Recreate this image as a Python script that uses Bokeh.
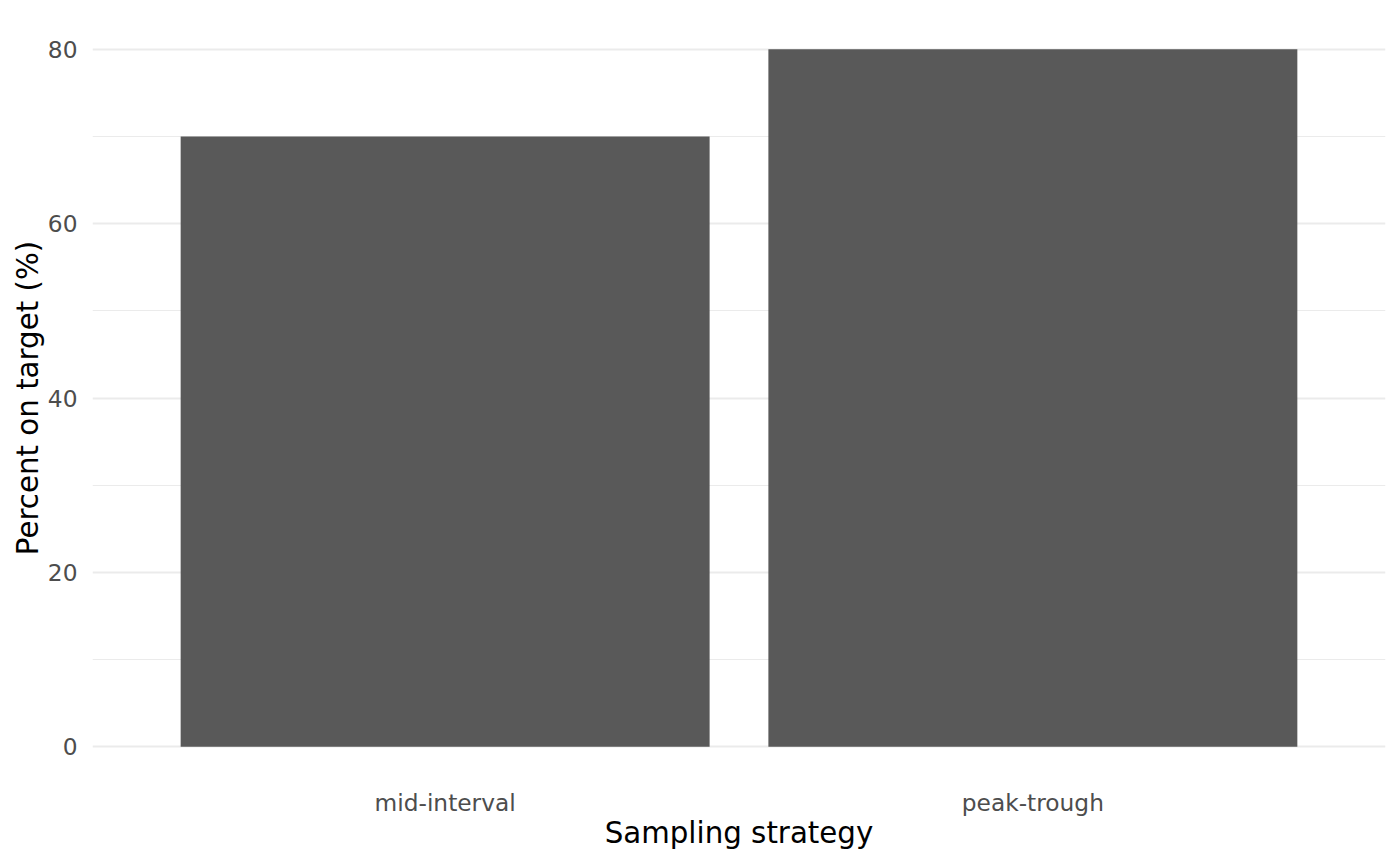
from bokeh.plotting import figure
from bokeh.models import FactorRange, Range1d, FixedTicker, ColumnDataSource
from bokeh.embed import file_html
from bokeh.resources import INLINE

# Data
strategies = ["mid-interval", "peak-trough"]
percent_on_target = [70, 80]
y_ticks = [0, 20, 40, 60, 80]
y_minor_ticks = [10, 30, 50, 70]

src = ColumnDataSource(dict(strategy=strategies, pct=percent_on_target))

p = figure(
    x_range=FactorRange(*strategies, range_padding=0.1),
    y_range=Range1d(-4, 84),
    width=1392, height=857,
    output_backend="svg", toolbar_location=None,
    min_border_left=92, min_border_right=7,
    min_border_top=14, min_border_bottom=76,
)

p.vbar(x="strategy", top="pct", width=0.9, source=src,
       fill_color="#595959", line_color=None)

FONT = "DejaVu Sans"
p.outline_line_color = None
p.background_fill_color = "white"
p.border_fill_color = "white"

for ax in (p.xaxis[0], p.yaxis[0]):
    ax.axis_line_color = None
    ax.major_tick_line_color = None
    ax.minor_tick_line_color = None
    ax.major_tick_out = 0
    ax.major_tick_in = 0
    ax.major_label_text_font = FONT
    ax.major_label_text_font_size = "23.3px"
    ax.major_label_text_color = "#4D4D4D"
    ax.axis_label_text_font = FONT
    ax.axis_label_text_font_size = "29.3px"
    ax.axis_label_text_font_style = "normal"
    ax.axis_label_text_color = "black"

p.xaxis.axis_label = "Sampling strategy"
p.yaxis.axis_label = "Percent on target (%)"
p.xaxis.major_label_standoff = 7
p.xaxis.axis_label_standoff = -3
p.yaxis.major_label_standoff = 11
p.yaxis.axis_label_standoff = 0

p.yaxis.ticker = FixedTicker(ticks=y_ticks, minor_ticks=y_minor_ticks)
p.ygrid.ticker = FixedTicker(ticks=y_ticks, minor_ticks=y_minor_ticks)
p.ygrid.grid_line_color = "#EBEBEB"
p.ygrid.grid_line_width = 2
p.ygrid.minor_grid_line_color = "#EBEBEB"
p.ygrid.minor_grid_line_width = 1
p.xgrid.grid_line_color = None

open("out.html", "w").write(file_html(p, INLINE))
